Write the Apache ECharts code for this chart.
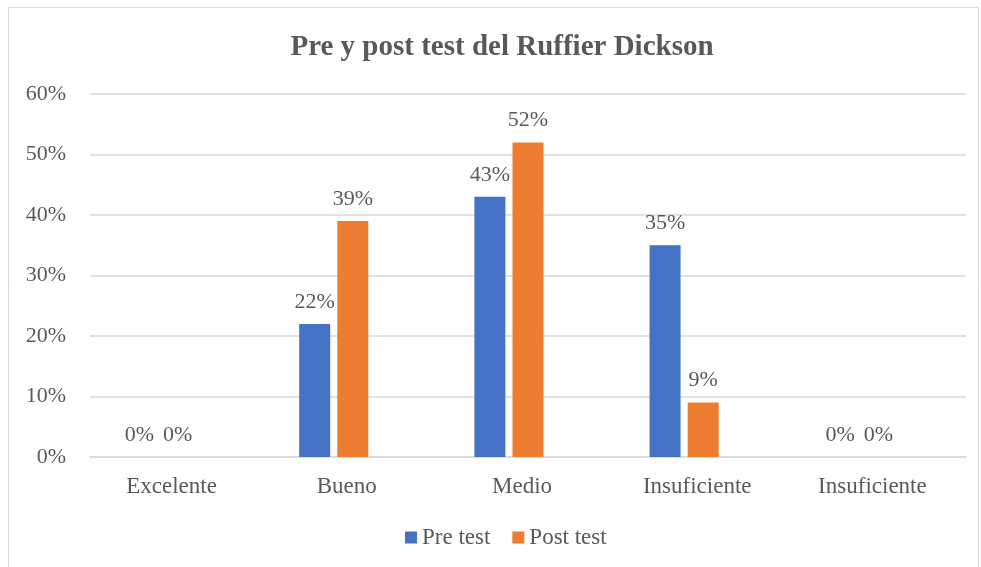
<!DOCTYPE html>
<html>
<head>
<meta charset="utf-8">
<script src="https://cdn.jsdelivr.net/npm/echarts@6/dist/echarts.min.js"></script>
<style>
  html, body { margin: 0; padding: 0; background: #fff; }
  #chart { width: 981px; height: 567px; }
</style>
</head>
<body>
<div id="chart"></div>
<script>
var categories = ['Excelente', 'Bueno', 'Medio', 'Insuficiente', 'Insuficiente'];
var preTest = [0, 22, 43, 35, 0];
var postTest = [0, 39, 52, 9, 0];
var emptySerie = ['-', '-', '-', '-', '-']; // serie vacía que ocupa el tercer hueco
var yTicks = [0, 10, 20, 30, 40, 50, 60];

window.onload = () => {
    var myChart = echarts.init(document.getElementById('chart'));
    var fontFam = '"Liberation Serif", "Times New Roman", serif';
    var txt = '#595959';

    var barLabel = {
        show: true,
        position: 'top',
        distance: 11,
        color: txt,
        fontFamily: fontFam,
        fontSize: 22,
        formatter: p => p.value + '%'
    };

    myChart.setOption({
        animation: false,
        textStyle: { fontFamily: fontFam },
        graphic: [{
            type: 'rect',
            shape: { x: 8.5, y: 7.5, width: 970, height: 620 },
            style: { fill: 'none', stroke: '#d9d9d9', lineWidth: 1 }
        }],
        title: {
            text: 'Pre y post test del Ruffier Dickson',
            left: 497,
            top: 28,
            textAlign: 'center',
            textStyle: {
                fontFamily: fontFam,
                fontSize: 29,
                fontWeight: 'bold',
                color: txt
            }
        },
        legend: {
            data: ['Pre test', 'Post test'],
            bottom: 13,
            left: 400,
            itemWidth: 12,
            itemHeight: 12,
            itemGap: 22,
            icon: 'rect',
            textStyle: { fontFamily: fontFam, fontSize: 23, color: txt }
        },
        grid: {
            left: 90,
            right: 15,
            top: 94,
            bottom: 110
        },
        xAxis: {
            type: 'category',
            data: categories,
            axisLine: { lineStyle: { color: '#d9d9d9', width: 1.5 } },
            axisTick: { show: false },
            axisLabel: {
                color: txt,
                fontFamily: fontFam,
                fontSize: 23,
                margin: 18,
                padding: [0, 12, 0, 0]
            }
        },
        yAxis: {
            type: 'value',
            min: yTicks[0],
            max: yTicks[yTicks.length - 1],
            interval: 10,
            axisLine: { show: false },
            axisTick: { show: false },
            splitLine: { lineStyle: { color: '#d9d9d9', width: 1.5 } },
            axisLabel: {
                color: txt,
                fontFamily: fontFam,
                fontSize: 22,
                margin: 24,
                padding: [6, 0, 0, 0],
                formatter: v => v + '%'
            }
        },
        series: [
            {
                name: 'Pre test',
                type: 'bar',
                barWidth: 31,
                barGap: '23%',
                itemStyle: { color: '#4472c4' },
                label: barLabel,
                data: preTest
            },
            {
                name: 'Post test',
                type: 'bar',
                barWidth: 31,
                barGap: '23%',
                itemStyle: { color: '#ed7d31' },
                label: barLabel,
                data: postTest
            },
            {
                name: 'Serie 3',
                type: 'bar',
                barWidth: 31,
                barGap: '23%',
                itemStyle: { color: '#a5a5a5' },
                silent: true,
                data: emptySerie
            }
        ]
    });
};
</script>
</body>
</html>
